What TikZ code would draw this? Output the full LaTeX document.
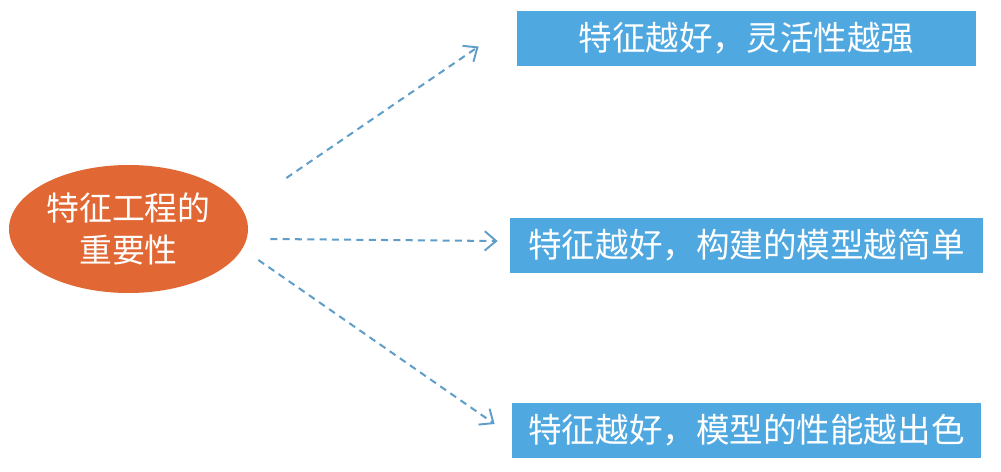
\documentclass[tikz,border=0pt]{standalone}
\usepackage{fontspec}
\usetikzlibrary{arrows.meta, shapes.geometric, calc}
\newfontfamily\cjk{Noto Sans CJK SC}
\definecolor{centrecolor}{RGB}{225, 104, 52}
\definecolor{boxcolor}   {RGB}{79, 168, 223}
\definecolor{linkcolor}  {RGB}{96, 158, 202}
\tikzset{
	centrenode/.style={
		ellipse, fill=centrecolor, draw=none,
		minimum width=4.78cm, minimum height=2.56cm, inner sep=0pt,
		align=center, text=white,
		font=\cjk\fontsize{18.7}{23.5}\selectfont
	},
	resultbox/.style={
		rectangle, fill=boxcolor, draw=none,
		minimum height=1.1cm, inner sep=0pt,
		align=center, text=white,
		font=\cjk\fontsize{19.1}{24}\selectfont
	},
	dasharrow/.style={
		-{Straight Barb[length=6.5pt, width=11pt, line width=1.1pt]},
		dash pattern=on 4pt off 3pt, line width=1.15pt, color=linkcolor
	}
}
\begin{document}
\begin{tikzpicture}
	\useasboundingbox (0,0) rectangle (20.02,-9.44);
	
	%% ═══════════════════════════════
	%%  LEFT — central topic
	%% ═══════════════════════════════
	\node[centrenode] (topic) at (2.57,-4.58) {特征工程的\\重要性};
	
	%% ═══════════════════════════════
	%%  RIGHT — three results
	%% ═══════════════════════════════
	\node[resultbox, minimum width=9.18cm] (flexible) at (14.93,-0.77) {特征越好，灵活性越强};
	\node[resultbox, minimum width=9.46cm] (simple) at (14.93,-4.91) {特征越好，构建的模型越简单};
	\node[resultbox, minimum width=9.38cm] (better) at (14.93,-8.61) {特征越好，模型的性能越出色};
	
	% topic → results
	\draw[dasharrow] ([shift={(0.76,1.02)}]topic.east) -- ([shift={(-0.76,-0.16)}]flexible.west);
	\draw[dasharrow] ([shift={(0.44,-0.2)}]topic.east) -- ([shift={(-0.24,0.09)}]simple.west);
	\draw[dasharrow] ([shift={(0.2,-0.62)}]topic.east) -- ([shift={(-0.34,0.13)}]better.west);
	
\end{tikzpicture}
\end{document}
